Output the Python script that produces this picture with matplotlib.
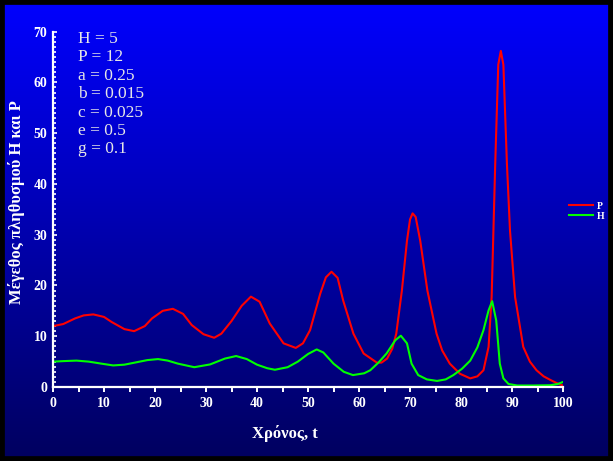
import numpy as np
import matplotlib
matplotlib.use("Agg")
import matplotlib.pyplot as plt
from matplotlib.patches import Rectangle

plt.rcParams['font.family'] = ['Liberation Serif', 'DejaVu Serif']

# P (parasitoid)
t_p = [0, 2, 4.3, 6, 7.9, 10, 11.5, 14, 15.9, 18, 19.4, 21.5, 23.5, 25.5, 27.2, 29.5,
       31.6, 33, 35, 37, 38.8, 40.5, 42.5, 45.2, 47.6, 49, 50.4, 52.4, 53.5, 54.6, 55.8,
       56.9, 58.9, 60.9, 63.5, 64.4, 65.5, 66.5, 67.3, 68.4, 69.4, 70.0, 70.5, 71.1, 72.0,
       73.4, 75.2, 76.3, 77.8, 79.8, 81.8, 83.2, 84.4, 85.4, 86.0, 86.7, 87.3, 87.8, 88.3,
       89.0, 89.6, 90.6, 92.2, 93.5, 94.8, 96.2, 97.5, 98.7, 99.7, 100]
p_val = [12.0, 12.4, 13.5, 14.1, 14.3, 13.8, 12.8, 11.4, 11.0, 12.0, 13.5, 15.0, 15.4, 14.4, 12.2, 10.4,
         9.7, 10.5, 13.0, 16.0, 17.8, 16.8, 12.5, 8.6, 7.7, 8.6, 11.2, 18.4, 21.6, 22.7, 21.5,
         17.0, 10.5, 6.6, 4.8, 4.8, 5.6, 7.5, 10.5, 19.0, 28.8, 33.0, 34.2, 33.5, 28.8,
         19.0, 10.5, 7.2, 4.6, 2.6, 1.7, 2.1, 3.3, 7.9, 17.7, 43.9, 63.5, 66.2, 63.5,
         43.9, 30.8, 17.7, 7.9, 5.0, 3.3, 2.1, 1.4, 0.8, 0.4, 0.3]

# H (host)
t_h = [0, 2, 4.6, 7, 9.5, 11.8, 14, 16.5, 18.5, 20.6, 22.5, 24.5, 27.7, 30.8, 33.7, 35.9,
       38, 40, 42, 43.5, 46, 48, 50, 51.7, 53, 55, 57, 58.8, 61, 62.2, 63.8, 65.4, 67.1,
       68.2, 69.4, 70.3, 71.6, 73.3, 75.3, 77, 78.5, 80.2, 81.8, 83.2, 84.4, 85.4, 86.1,
       86.9, 87.6, 88.3, 89.3, 91, 94, 97.5, 99, 100]
h_val = [5.0, 5.1, 5.2, 5.0, 4.6, 4.25, 4.4, 4.9, 5.3, 5.5, 5.2, 4.6, 3.9, 4.45, 5.6, 6.1,
         5.5, 4.4, 3.7, 3.4, 3.9, 5.0, 6.5, 7.4, 6.8, 4.6, 3.0, 2.35, 2.7, 3.3, 4.8, 6.6, 9.2,
         10.1, 8.6, 4.6, 2.35, 1.5, 1.2, 1.5, 2.35, 3.6, 5.2, 7.8, 11.2, 15.1, 16.9,
         13.1, 4.6, 1.7, 0.6, 0.3, 0.3, 0.35, 0.6, 1.0]

params = ["H = 5", "P = 12", "a = 0.25", "b = 0.015", "c = 0.025", "e = 0.5", "g = 0.1"]

fig = plt.figure(figsize=(6.13, 4.61), dpi=100)

# gradient background
bg = fig.add_axes([0, 0, 1, 1], zorder=-10)
grad = np.linspace(1.0, 0.37, 256).reshape(-1, 1)
rgb = np.zeros((256, 1, 3))
rgb[:, :, 2] = grad
bg.imshow(rgb, aspect='auto', extent=[0, 1, 0, 1])
bg.axis('off')

ax = fig.add_axes([0.0865, 0.1605, 0.832, 0.771])
ax.set_facecolor('none')
ax.plot(t_p, p_val, color='#ff0000', lw=1.5, label='P')
ax.plot(t_h, h_val, color='#00ff00', lw=1.5, label='H')

ax.set_xlim(0, 100)
ax.set_ylim(0, 70)
ax.set_xticks(np.arange(0, 101, 10))
ax.set_xticks(np.arange(0, 101, 5), minor=True)
ax.set_yticks(np.arange(0, 71, 10))
ax.set_yticks(np.arange(0, 71, 1), minor=True)
for s in ['top', 'right']:
    ax.spines[s].set_visible(False)
for s in ['left', 'bottom']:
    ax.spines[s].set_color('white')
    ax.spines[s].set_linewidth(1.6)
ax.tick_params(axis='x', which='both', direction='out', length=3.5, width=1.4,
               color='white', labelcolor='white', labelsize=10, pad=4)
ax.tick_params(axis='y', which='major', direction='in', length=3, width=1.2,
               color='white', labelcolor='white', labelsize=10, pad=4)
ax.tick_params(axis='y', which='minor', direction='in', length=2.5, width=1.2, color='white')
for lab in ax.get_xticklabels() + ax.get_yticklabels():
    lab.set_fontweight('bold')

# parameter block, one line per text
for i, line in enumerate(params):
    fig.text(78 / 613, 1 - (39 + 18.4 * i) / 461, line, ha='left', va='center',
             color='#e6e6e6', fontsize=12.5)

leg = ax.legend(loc='center left', bbox_to_anchor=(0.995, 0.495), frameon=False,
                handlelength=2.4, handletextpad=0.4, labelspacing=0.1,
                prop={'size': 7, 'weight': 'bold'})
for txt in leg.get_texts():
    txt.set_color('white')

fig.text(17 / 613, 1 - 202 / 461, "Μέγεθος πληθυσμού Η και Ρ", rotation=90,
         ha='center', va='center', color='white', fontsize=12, fontweight='bold')
fig.text(285 / 613, 1 - 433 / 461, "Χρόνος, t", ha='center', va='center',
         color='white', fontsize=12, fontweight='bold')

fig.patches.append(Rectangle((0, 0), 1, 1, transform=fig.transFigure, fill=False,
                             edgecolor='black', lw=7, zorder=10))

fig.savefig("out.png", dpi=100)
